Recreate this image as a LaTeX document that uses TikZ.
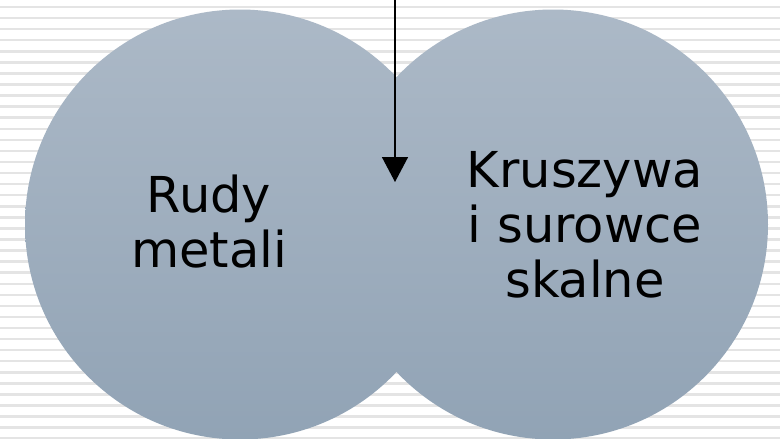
\documentclass[tikz,border=0pt]{standalone}
\usepackage{fontspec}
\setmainfont{DejaVu Sans}
\usetikzlibrary{arrows.meta}

\definecolor{ballTop}{HTML}{ACB9C7}
\definecolor{ballBottom}{HTML}{91A3B5}
\definecolor{stripe}{HTML}{E4E4E4}

\begin{document}
\begin{tikzpicture}[x=1pt, y=-1pt,
        ball/.style={circle, minimum size=430pt, inner sep=0pt, top color=ballTop, bottom color=ballBottom},
        label/.style={align=center, font=\fontsize{49.5}{55}\selectfont}]
            \useasboundingbox (0,0) rectangle (780,439);
            \clip (0,0) rectangle (780,439);

            % striped background
            \fill[white] (0,0) rectangle (780,439);
            \foreach \k in {0,...,39}
                \draw[stripe, line width=2.5pt] (0,7+11.07*\k) -- (780,7+11.07*\k);

            \node[ball] (rudy) at (240,224.5) {};
            \node[ball] (kruszywa) at (553,224.5) {};

            \node[label] (rudytext) at (209,222) {Rudy\\metali};
            \node[label] (kruszywatext) at (585,225) {Kruszywa\\i surowce\\skalne};

            \coordinate (top) at (395,-2);
            \coordinate (tip) at (395,182);
            \draw[line width=1.5pt, -{Triangle[width=26pt, length=25pt]}] (top) -- (tip);
        \end{tikzpicture}
\end{document}
